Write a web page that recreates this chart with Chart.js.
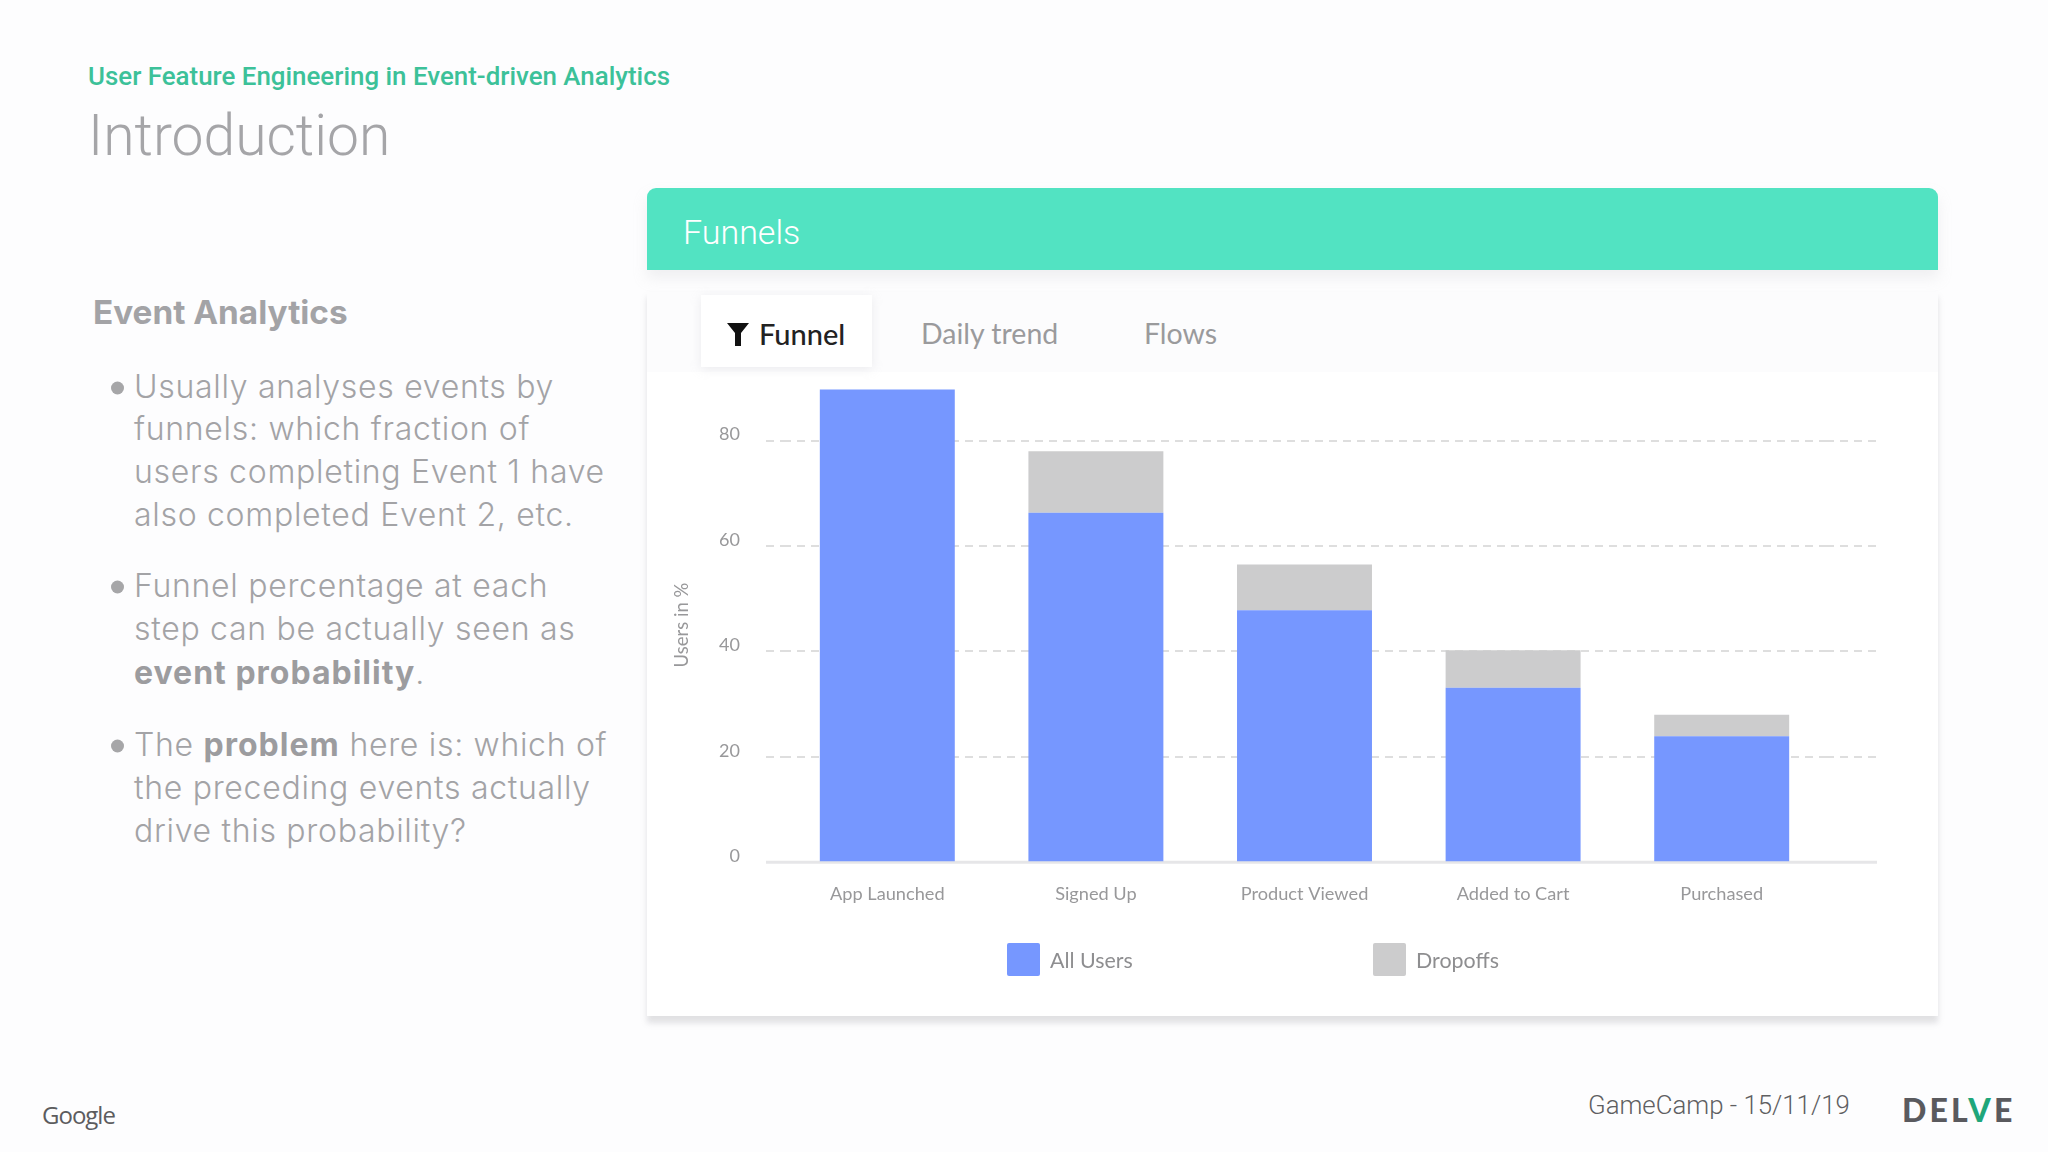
<!DOCTYPE html>
<html><head><meta charset="utf-8">
<script src="https://cdn.jsdelivr.net/npm/chart.js@4"></script>
<style>
html,body{margin:0;padding:0;width:2048px;height:1152px;overflow:hidden;background:#fdfdfe;}
.t{position:absolute;white-space:nowrap;transform:translateY(-50%);line-height:1;}
.body{font-family:Inter,sans-serif;font-weight:300;font-size:32px;letter-spacing:.7px;color:#a3a3a6;left:134px;}
.body b{font-weight:700;color:#9c9c9f;letter-spacing:1px;}
.dot{position:absolute;width:13px;height:13px;border-radius:50%;background:#a6a6a8;left:111px;transform:translateY(-50%);}
#card{position:absolute;left:647px;top:290px;width:1291px;height:726px;background:#fff;box-shadow:0 7px 6px rgba(190,190,195,.45);}
#strip{position:absolute;left:647px;top:290px;width:1291px;height:82px;background:#fcfcfd;}
#tab{position:absolute;left:701px;top:295px;width:171px;height:72px;background:#fff;box-shadow:0 2px 10px rgba(200,200,205,.3);}
#head{position:absolute;left:647px;top:188px;width:1291px;height:82px;background:#52e3c2;border-radius:9px 9px 0 0;box-shadow:0 8px 14px rgba(200,200,205,.25);}
#wrap{position:absolute;left:647px;top:372px;width:1291px;height:644px;}
.sw{position:absolute;width:33px;height:33px;border-radius:2px;top:943px;}
.lt{font-family:Lato,sans-serif;font-size:21.4px;color:#8e8e90;}
</style></head><body>
<div class="t" style="left:88px;top:76px;font:500 25.9px Roboto,sans-serif;color:#3cc199;">User Feature Engineering in Event-driven Analytics</div>
<div class="t" style="left:88px;top:135px;font:300 57px Roboto,sans-serif;color:#a5a5a8;">Introduction</div>
<div class="t" style="left:93px;top:312px;font:700 33.3px Inter,sans-serif;color:#a3a3a6;">Event Analytics</div>

<span class="dot" style="top:388px"></span>
<div class="t body" style="top:387px">Usually analyses events by</div>
<div class="t body" style="top:429px">funnels: which fraction of</div>
<div class="t body" style="top:472px">users completing Event 1 have</div>
<div class="t body" style="top:515px">also completed Event 2, etc.</div>
<span class="dot" style="top:587px"></span>
<div class="t body" style="top:586px">Funnel percentage at each</div>
<div class="t body" style="top:629px">step can be actually seen as</div>
<div class="t body" style="top:673px"><b>event probability</b>.</div>
<span class="dot" style="top:746px"></span>
<div class="t body" style="top:745px">The <b>problem</b> here is: which of</div>
<div class="t body" style="top:788px">the preceding events actually</div>
<div class="t body" style="top:831px">drive this probability?</div>

<div id="card"></div><div id="strip"></div><div id="tab"></div><div id="head"></div>
<div class="t" style="left:683px;top:232px;font:300 34px Roboto,sans-serif;color:#fff;">Funnels</div>
<svg style="position:absolute;left:727px;top:323px" width="22" height="23" viewBox="0 0 22 23"><path d="M0 0H22L14 10V23H8V10Z" fill="#111"/></svg>
<div class="t" style="left:759px;top:333px;font:500 29px Lato,sans-serif;color:#222;">Funnel</div>
<div class="t" style="left:921px;top:333px;font:400 28.5px Lato,sans-serif;color:#9a9a9c;">Daily trend</div>
<div class="t" style="left:1144px;top:333px;font:400 28.5px Lato,sans-serif;color:#9a9a9c;">Flows</div>

<div id="wrap"><canvas id="c" width="1291" height="644" style="display:block;width:1291px;height:644px"></canvas></div>
<div id="legend"></div>

<div class="t" style="left:42px;top:1114px;font:400 24px 'Open Sans',sans-serif;color:#5c5c5e;letter-spacing:-1px;">Google</div>
<div class="t" style="left:1588px;top:1105px;font:300 25.8px Roboto,sans-serif;color:#5f5f62;">GameCamp - 15/11/19</div>
<div class="t" style="left:1902px;top:1109px;font:900 32px Lato,sans-serif;color:#5a5a5e;letter-spacing:3.2px;">DEL<span style="color:#1fa67a">V</span>E</div>

<script>
const categories = ['App Launched','Signed Up','Product Viewed','Added to Cart','Purchased'];
const allUsers = [89.7,66.3,47.8,33.1,23.9];
const dropoffs = [0,11.7,8.7,7.1,4.1];
const yTicks = [0,20,40,60,80];
const seriesNames = ['All Users','Dropoffs'];
const seriesColors = ['#7697ff','#cccccd'];

const extendLines = {
  id:'extendLines',
  beforeDatasetsDraw(chart){
    const {ctx,chartArea:a,scales:{y}} = chart;
    const left = a.left-17, right = a.right+51;
    ctx.save();
    y.ticks.forEach(t=>{
      if(t.value===0) return;
      const p = Math.round(y.getPixelForValue(t.value));
      ctx.strokeStyle='#dedede'; ctx.lineWidth=2; ctx.setLineDash([8,6]);
      ctx.beginPath(); ctx.moveTo(left,p); ctx.lineTo(a.left,p); ctx.moveTo(a.right,p); ctx.lineTo(right,p); ctx.stroke();
    });
    const p0 = y.getPixelForValue(0);
    ctx.setLineDash([]); ctx.strokeStyle='#e6e6e8'; ctx.lineWidth=3;
    ctx.beginPath(); ctx.moveTo(left,p0); ctx.lineTo(right,p0); ctx.stroke();
    ctx.restore();
  }
};

const chart = new Chart(document.getElementById('c'),{
  type:'bar',
  data:{labels:categories,datasets:[
    {label:seriesNames[0],data:allUsers,backgroundColor:seriesColors[0],barPercentage:0.647,categoryPercentage:1},
    {label:seriesNames[1],data:dropoffs,backgroundColor:seriesColors[1],barPercentage:0.647,categoryPercentage:1}
  ]},
  plugins:[extendLines],
  options:{
    responsive:false,animation:false,
    layout:{padding:{left:24,right:112,top:16,bottom:97}},
    plugins:{legend:{display:false},tooltip:{enabled:false}},
    scales:{
      x:{stacked:true,grid:{display:false},border:{display:false},
         ticks:{padding:13.5,color:'#98989a',maxRotation:0,font:{family:'Lato',size:18.2}}},
      y:{stacked:true,min:0,max:90,
         afterFit(s){s.width=112;s.paddingTop=0;s.paddingBottom=0;},
         afterBuildTicks(s){s.ticks=yTicks.map(v=>({value:v}));},
         border:{display:false,dash:[8,6]},
         grid:{color:'#dedede',lineWidth:2,drawTicks:false},
         ticks:{padding:43,labelOffset:-6,color:'#98989a',font:{family:'Lato',size:18}},
         title:{display:true,text:'Users in %',color:'#98989a',font:{family:'Lato',size:18.5},padding:0}}
    }
  }
});

const lg = document.getElementById('legend');
const swX=[1007,1373], txX=[1050,1416];
chart.options.plugins.legend.labels.generateLabels(chart).forEach((it,i)=>{
  const s=document.createElement('span'); s.className='sw'; s.style.left=swX[i]+'px'; s.style.background=it.fillStyle; lg.appendChild(s);
  const t=document.createElement('div'); t.className='t lt'; t.style.left=txX[i]+'px'; t.style.top='961px'; t.textContent=it.text; lg.appendChild(t);
});
</script>
</body></html>
